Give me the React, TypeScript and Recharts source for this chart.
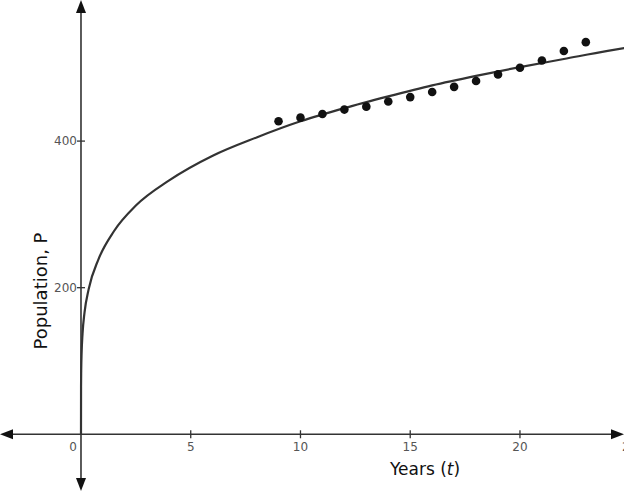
import React from 'react';
import { ComposedChart, Line, Scatter, XAxis, YAxis, ReferenceLine, ReferenceDot } from 'recharts';

// fitted model curve
const curveT = [0, 0.003, 0.01, 0.03, 0.07, 0.16, 0.35, 0.8, 1.5, 2.5, 4, 6, 8, 10, 12, 14, 16, 18, 20, 22, 24, 24.8];
const curveP = [0, 65, 87, 112, 137, 166, 198, 239, 277, 312, 346, 380, 405, 427, 445, 461, 476, 489, 501, 512, 523, 527];

// observed population
const years = [9, 10, 11, 12, 13, 14, 15, 16, 17, 18, 19, 20, 21, 22, 23];
const population = [427, 432, 437, 443, 447, 454, 460, 467, 474, 482, 491, 500, 510, 523, 535];

const xTicks = [0, 5, 10, 15, 20, 25];
const yTicks = [200, 400];

const curveData = curveT.map((t, i) => ({ t, P: curveP[i] }));
const pointData = years.map((t, i) => ({ t, P: population[i] }));

const AXIS = '#333';
const TICK_TEXT = '#555';

const HorizontalAxis = (props: any) => {
  const { x1, x2, y1 } = props;
  return (
    <g>
      <line x1={x1 + 4} y1={y1} x2={x2 - 4} y2={y1} stroke={AXIS} strokeWidth={1.6} />
      <polygon points={`${x1},${y1} ${x1 + 13},${y1 - 5} ${x1 + 13},${y1 + 5}`} fill="#111" />
      <polygon points={`${x2},${y1} ${x2 - 13},${y1 - 5} ${x2 - 13},${y1 + 5}`} fill="#111" />
    </g>
  );
};

const VerticalAxis = (props: any) => {
  const { x1, y1, y2 } = props;
  const top = Math.min(y1, y2);
  const bottom = Math.max(y1, y2);
  return (
    <g>
      <line x1={x1} y1={top + 4} x2={x1} y2={bottom - 4} stroke={AXIS} strokeWidth={1.6} />
      <polygon points={`${x1},${top} ${x1 - 5},${top + 13} ${x1 + 5},${top + 13}`} fill="#111" />
      <polygon points={`${x1},${bottom} ${x1 - 5},${bottom - 13} ${x1 + 5},${bottom - 13}`} fill="#111" />
    </g>
  );
};

const xTickShape = (value: number) => (props: any) => {
  const { cx, cy } = props;
  if (value === 0) {
    return (
      <text x={cx - 8} y={cy + 17} textAnchor="middle" fontSize={12} fill={TICK_TEXT} fontFamily="DejaVu Sans">
        0
      </text>
    );
  }
  return (
    <g>
      <line x1={cx} y1={cy - 4} x2={cx} y2={cy + 4} stroke={AXIS} strokeWidth={1.3} />
      <text x={cx} y={cy + 17} textAnchor="middle" fontSize={12} fill={TICK_TEXT} fontFamily="DejaVu Sans">
        {value}
      </text>
    </g>
  );
};

const yTickShape = (value: number) => (props: any) => {
  const { cx, cy } = props;
  return (
    <g>
      <line x1={cx - 4} y1={cy} x2={cx + 4} y2={cy} stroke={AXIS} strokeWidth={1.3} />
      <text x={cx - 4} y={cy + 4} textAnchor="end" fontSize={12} fill={TICK_TEXT} fontFamily="DejaVu Sans">
        {value}
      </text>
    </g>
  );
};

export default function App() {
  return (
    <div style={{ width: 624, height: 491, background: '#fff' }}>
      <style>{`body{margin:0}`}</style>
      <ComposedChart width={624} height={491} margin={{ top: 0, right: 0, bottom: 0, left: 0 }}>
        <XAxis type="number" dataKey="t" domain={[-3.69, 24.74]} hide allowDataOverflow />
        <YAxis type="number" dataKey="P" domain={[-77.4, 592.5]} hide allowDataOverflow />
        <ReferenceLine y={0} shape={HorizontalAxis} />
        <ReferenceLine x={0} shape={VerticalAxis} />
        {xTicks.map((v) => (
          <ReferenceDot key={'x' + v} x={v} y={0} ifOverflow="visible" shape={xTickShape(v)} />
        ))}
        {yTicks.map((v) => (
          <ReferenceDot key={'y' + v} x={0} y={v} ifOverflow="visible" shape={yTickShape(v)} />
        ))}
        <Line
          data={curveData}
          dataKey="P"
          type="monotone"
          stroke="#333"
          strokeWidth={2.2}
          dot={false}
          activeDot={false}
          isAnimationActive={false}
        />
        <Scatter data={pointData} dataKey="P" fill="#111" isAnimationActive={false} shape={(p: any) => <circle cx={p.cx} cy={p.cy} r={4.3} fill="#111" />} />
        <text x={40} y={291} transform="rotate(-90 40 291)" textAnchor="middle" dominantBaseline="central" fontSize={18} fill="#111" fontFamily="DejaVu Sans">
          Population, P
        </text>
        <text x={425} y={475} textAnchor="middle" fontSize={17} fill="#111" fontFamily="DejaVu Sans">
          Years (<tspan fontStyle="italic">t</tspan>)
        </text>
      </ComposedChart>
    </div>
  );
}
